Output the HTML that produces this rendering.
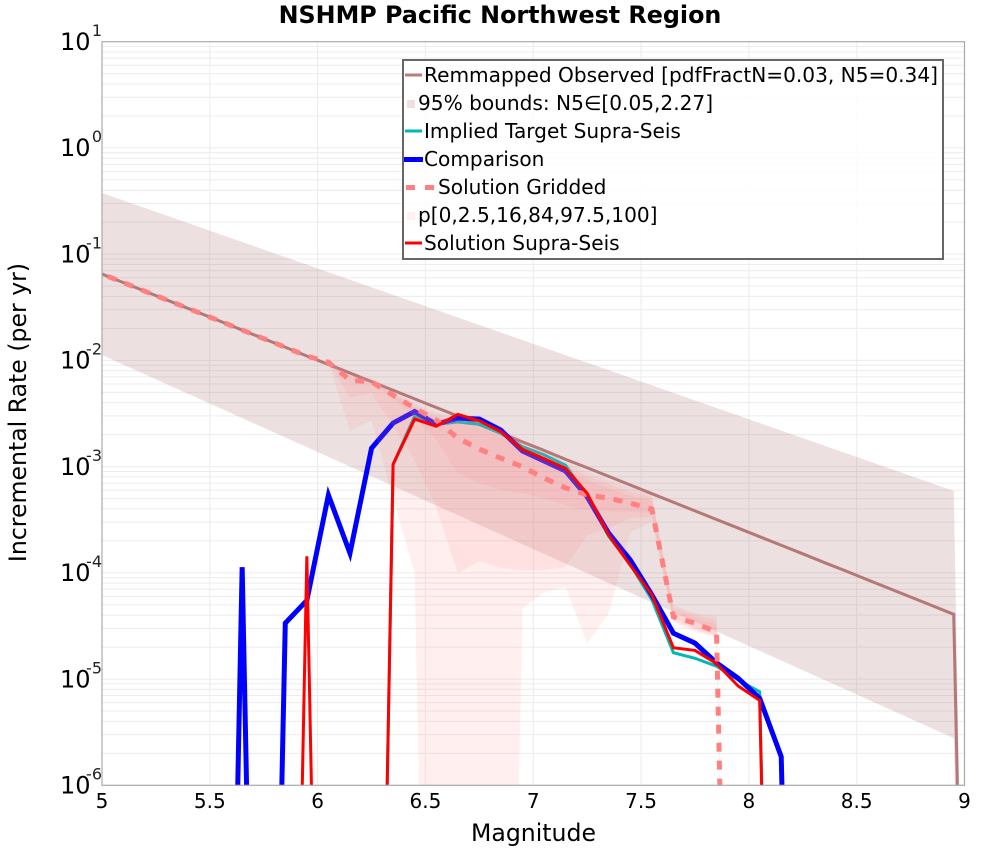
<!DOCTYPE html>
<html lang="en">
<head>
<meta charset="utf-8">
<title>NSHMP Pacific Northwest Region</title>
<style>
html,body{margin:0;padding:0;background:#fff;overflow:hidden;}
svg{display:block;font-family:"DejaVu Sans","Liberation Sans",sans-serif;}
</style>
</head>
<body>
<svg id="chart" xmlns="http://www.w3.org/2000/svg" width="1000" height="850" viewBox="0 0 1000 850">
  <defs><clipPath id="plot-clip"><rect x="102" y="41.7" width="862.5" height="743.6"/></clipPath></defs>
  <rect x="102" y="41.7" width="862.5" height="743.6" fill="#fff"/>
  <g id="grid"></g>
  <g id="series" clip-path="url(#plot-clip)"></g>
  <rect x="102" y="41.7" width="862.5" height="743.6" fill="none" stroke="#aaaaaa" stroke-width="1.2"/>
  <g id="ticks"></g>
  <text x="500" y="23" text-anchor="middle" font-size="23.8" font-weight="bold" fill="#000">NSHMP Pacific Northwest Region</text>
  <text x="533.5" y="841" text-anchor="middle" font-size="23.6" fill="#000">Magnitude</text>
  <text transform="translate(26,412.5) rotate(-90)" text-anchor="middle" font-size="23.6" fill="#000">Incremental Rate (per yr)</text>

  <g>
    <rect x="403" y="60" width="540" height="199" fill="#fff" fill-opacity="0.85" stroke="#666" stroke-width="2"/>
    <g>
      <line x1="405" x2="422" y1="75" y2="75" stroke="rgb(184,125,125)" stroke-width="3"/>
      <text x="424" y="82" font-size="20.12">Remmapped Observed [pdfFractN=0.03, N5=0.34]</text>
    </g>
    <g>
      <rect x="407" y="100" width="8" height="8" fill="rgba(165,100,100,0.2)"/>
      <text x="418" y="110" font-size="20.12">95% bounds: N5∈[0.05,2.27]</text>
    </g>
    <g>
      <line x1="405" x2="422" y1="131" y2="131" stroke="#00b8b8" stroke-width="3"/>
      <text x="424" y="138" font-size="20.12">Implied Target Supra-Seis</text>
    </g>
    <g>
      <line x1="404" x2="423" y1="159.500" y2="159.500" stroke="#0000ff" stroke-width="5"/>
      <text x="424" y="166" font-size="20.12">Comparison</text>
    </g>
    <g>
      <line x1="406" x2="435" y1="187.500" y2="187.500" stroke="#ff8080" stroke-width="5" stroke-dasharray="9 10"/>
      <text x="438" y="194" font-size="20.12">Solution Gridded</text>
    </g>
    <g>
      <rect x="407" y="212" width="8" height="8" fill="rgba(255,128,128,0.13)"/>
      <text x="418" y="222" font-size="20.12">p[0,2.5,16,84,97.5,100]</text>
    </g>
    <g>
      <line x1="405" x2="422" y1="243" y2="243" stroke="#ff0000" stroke-width="3"/>
      <text x="424" y="250" font-size="20.12">Solution Supra-Seis</text>
    </g>
  </g>
</svg>
<script>
const xTickValues = [5, 5.5, 6, 6.5, 7, 7.5, 8, 8.5, 9];
const xTickLabels = ["5", "5.5", "6", "6.5", "7", "7.5", "8", "8.5", "9"];
const yTickExponents = [1, 0, -1, -2, -3, -4, -5, -6];

const magnitudes = [4.95,5.05,5.15,5.25,5.35,5.45,5.55,5.65,5.75,5.85,5.95,6.05,6.15,6.25,6.35,6.45,6.55,6.65,6.75,6.85,6.95,7.05,7.15,7.25,7.35,7.45,7.55,7.65,7.75,7.85,7.95,8.05,8.15,8.25,8.35,8.45,8.55,8.65,8.75,8.85,8.95,9.05];

const observedRates = [0.0714,0.0592,0.0491,0.0407,0.0338,0.0281,0.0233,0.0193,0.016,0.0133,0.011,0.00916,0.0076,0.00631,0.00523,0.00434,0.0036,0.00299,0.00248,0.00206,0.00171,0.00142,0.00117,0.000975,0.000809,0.000671,0.000556,0.000462,0.000383,0.000318,0.000264,0.000219,0.000182,0.000151,0.000125,0.000104,0.0000861,0.0000714,0.0000592,0.0000491,0.0000407,0];

const boundMagnitudes = [4.95,5.95,6.95,7.95,8.95,9.05];
const boundUpperRates = [0.408,0.0796,0.01552,0.00303,0.00059,0];
const boundLowerRates = [0.01247,0.001524,0.000186,0.00002275,0.00000278,0];

const impliedRates = [0,0,0,0,0,0,0,0,0,0,0,0,0,0,1.05e-3,2.99e-3,2.5e-3,2.63e-3,2.5e-3,2.05e-3,1.54e-3,1.29e-3,1.03e-3,5.3e-4,2.2e-4,1.2e-4,5.6e-5,1.77e-5,1.57e-5,1.32e-5,9.8e-6,7.6e-6,0,0,0,0,0,0,0,0,0,0];

const comparisonRates = [0,0,0,0,0,0,0,1.13e-4,0,3.36e-5,5.5e-5,5.4e-4,1.53e-4,1.49e-3,2.57e-3,3.3e-3,2.5e-3,2.86e-3,2.8e-3,2.2e-3,1.4e-3,1.13e-3,9.1e-4,5.2e-4,2.36e-4,1.32e-4,6.2e-5,2.7e-5,2.18e-5,1.42e-5,1.02e-5,6.6e-6,1.86e-6,0,0,0,0,0,0,0,0,0];

const griddedRates = [0.0714,0.0592,0.0491,0.0407,0.0338,0.0281,0.0233,0.0193,0.016,0.0133,0.011,9.6e-3,6.5e-3,6.3e-3,4.7e-3,3.56e-3,2.74e-3,1.85e-3,1.46e-3,1.2e-3,9.96e-4,7.8e-4,6.3e-4,5.4e-4,5.05e-4,4.53e-4,3.98e-4,3.85e-5,3.36e-5,2.78e-5,0,0,0,0,0,0,0,0,0,0,0,0];

const supraRates = [0,0,0,0,0,0,0,0,0,0,1.43e-4,0,0,0,1.05e-3,2.8e-3,2.4e-3,3.1e-3,2.69e-3,2.13e-3,1.45e-3,1.19e-3,9.6e-4,5.6e-4,2.26e-4,1.18e-4,6.2e-5,1.97e-5,1.86e-5,1.4e-5,8.6e-6,6.3e-6,0,0,0,0,0,0,0,0,0,0];

const fanMagnitudes = [6.05,6.15,6.25,6.35,6.45,6.55,6.65,6.75,6.85,6.95,7.05,7.15,7.25,7.35,7.45,7.55,7.65,7.75,7.85,7.95];
const p100Log10 = [-2.007,-2.129,-2.167,-2.280,-2.402,-2.487,-2.534,-2.562,-2.637,-2.750,-2.854,-2.958,-3.052,-3.127,-3.202,-3.268,-4.304,-4.380,-4.408,-14];
const p975Log10 = [-2.007,-2.148,-2.186,-2.308,-2.430,-2.515,-2.562,-2.600,-2.675,-2.788,-2.892,-2.995,-3.090,-3.165,-3.240,-3.287,-4.332,-4.398,-4.445,-14];
const p84Log10 = [-2.016,-2.167,-2.195,-2.327,-2.449,-2.543,-2.581,-2.637,-2.713,-2.826,-2.939,-3.033,-3.127,-3.202,-3.277,-3.316,-4.361,-4.427,-4.483,-14];
const p16Log10 = [-2.016,-2.186,-2.214,-2.355,-2.534,-2.750,-3.061,-3.155,-3.221,-3.250,-3.297,-3.363,-3.410,-3.419,-3.428,-3.437,-4.427,-4.521,-4.587,-14];
const p25Log10 = [-2.016,-2.355,-2.308,-2.619,-2.939,-3.382,-4.003,-3.890,-3.955,-3.974,-3.974,-3.946,-3.645,-3.579,-3.485,-3.476,-4.445,-4.539,-4.596,-14];
const p0Log10 = [-2.016,-2.666,-2.562,-3.297,-4.003,-14,-14,-14,-14,-4.332,-4.182,-4.134,-4.662,-4.380,-3.617,-3.523,-4.464,-4.558,-4.604,-14];

const SVG_NS = "http://www.w3.org/2000/svg";
const PLOT = {left: 102, right: 964.5, top: 41.7, bottom: 785.3};
const ZERO_LOG = -14;
const CUT_Y = PLOT.bottom + 6;

function xScale(m) {
  return PLOT.left + (m - 5) / 4 * (PLOT.right - PLOT.left);
}
function yFromLog(l) {
  return PLOT.top + (1 - l) / 7 * (PLOT.bottom - PLOT.top);
}
function yScale(rate) {
  return yFromLog(rate > 0 ? Math.log10(rate) : ZERO_LOG);
}
function node(tag, attrs, parent) {
  const el = document.createElementNS(SVG_NS, tag);
  for (const k in attrs) el.setAttribute(k, attrs[k]);
  parent.appendChild(el);
  return el;
}
function pointsFrom(mags, rates) {
  return mags.map((m, i) => [xScale(m), yScale(rates[i])]);
}
function pointsFromLog(mags, logs) {
  return mags.map((m, i) => [xScale(m), yFromLog(logs[i])]);
}
function crossing(a, b) {
  const t = (CUT_Y - a[1]) / (b[1] - a[1]);
  return [a[0] + t * (b[0] - a[0]), CUT_Y];
}
/* Steep drops to zero are cut just below the axis so nothing extends past the plot. */
function linePath(pts) {
  let d = "";
  let open = false;
  for (let i = 0; i < pts.length; i++) {
    const p = pts[i];
    const inside = p[1] <= CUT_Y;
    if (i > 0) {
      const q = pts[i - 1];
      const prevInside = q[1] <= CUT_Y;
      if (inside && !prevInside) {
        const c = crossing(q, p);
        d += "M" + c[0].toFixed(2) + " " + c[1].toFixed(2);
        open = true;
      } else if (!inside && prevInside) {
        const c = crossing(q, p);
        d += "L" + c[0].toFixed(2) + " " + c[1].toFixed(2);
        open = false;
      }
    }
    if (inside) {
      d += (open ? "L" : "M") + p[0].toFixed(2) + " " + p[1].toFixed(2);
      open = true;
    }
  }
  return d;
}
function polygonPoints(pts) {
  const out = [];
  for (let i = 0; i < pts.length; i++) {
    const p = pts[i];
    const q = pts[(i + pts.length - 1) % pts.length];
    const pIn = p[1] <= CUT_Y;
    const qIn = q[1] <= CUT_Y;
    if (pIn !== qIn) out.push(crossing(q, p));
    if (pIn) out.push(p);
  }
  return out.map(p => p[0].toFixed(2) + "," + p[1].toFixed(2)).join(" ");
}

const grid = document.getElementById("grid");
const series = document.getElementById("series");
const ticks = document.getElementById("ticks");
const GRID_COLOR = "#ececec";

for (let e = -6; e <= 0; e++) {
  for (let k = 1; k <= 9; k++) {
    const gy = yFromLog(e + Math.log10(k));
    const hl = node("line", {x1: PLOT.left, x2: PLOT.right, y1: gy, y2: gy, stroke: GRID_COLOR, "stroke-width": 1}, grid);
    
    
  }
}
xTickValues.forEach(function (v, i) {
  const vl = node("line", {x1: xScale(v), x2: xScale(v), y1: PLOT.top, y2: PLOT.bottom, stroke: GRID_COLOR, "stroke-width": 1}, grid);
  
  
  const label = node("text", {x: xScale(v), y: 808, "text-anchor": "middle", "font-size": 20, fill: "#000"}, ticks);
  
  
  label.textContent = xTickLabels[i];
});
yTickExponents.forEach(function (e) {
  const gy = yFromLog(e);
  const base = node("text", {x: 60, y: gy + 8.3, "font-size": 24, fill: "#000"}, ticks);
  
  
  base.textContent = "10";
  const sup = node("text", {x: 102, y: gy - 5.7, "text-anchor": "end", "font-size": 16, fill: "#222"}, ticks);
  
  
  sup.textContent = String(e);
});

function drawLine(name, rates, color, width, dash) {
  const attrs = {d: linePath(pointsFrom(magnitudes, rates)), fill: "none", stroke: color, "stroke-width": width};
  if (dash) attrs["stroke-dasharray"] = dash;
  const el = node("path", attrs, series);
  
  
  return el;
}
function drawBand(name, pts, fill) {
  const el = node("polygon", {points: polygonPoints(pts), fill: fill, stroke: "none"}, series);
  
  
  return el;
}

drawLine("observed-line", observedRates, "rgb(184,125,125)", 3);
drawBand("bounds-band",
  pointsFrom(boundMagnitudes, boundUpperRates).concat(pointsFrom(boundMagnitudes, boundLowerRates).reverse()),
  "rgba(165,100,100,0.2)");
drawLine("implied-target-line", impliedRates, "#00b8b8", 3);
drawLine("comparison-line", comparisonRates, "#0000ff", 5);
drawLine("solution-gridded-line", griddedRates, "#ff8080", 5, "9 9");
const FAN_FILL = "rgba(255,128,128,0.13)";
drawBand("percentile-band-0-100",
  pointsFromLog(fanMagnitudes, p100Log10).concat(pointsFromLog(fanMagnitudes, p0Log10).reverse()), FAN_FILL);
drawBand("percentile-band-2.5-97.5",
  pointsFromLog(fanMagnitudes, p975Log10).concat(pointsFromLog(fanMagnitudes, p25Log10).reverse()), FAN_FILL);
drawBand("percentile-band-16-84",
  pointsFromLog(fanMagnitudes, p84Log10).concat(pointsFromLog(fanMagnitudes, p16Log10).reverse()), FAN_FILL);
drawLine("solution-supra-seis-line", supraRates, "#ff0000", 3);
</script>
</body>
</html>
